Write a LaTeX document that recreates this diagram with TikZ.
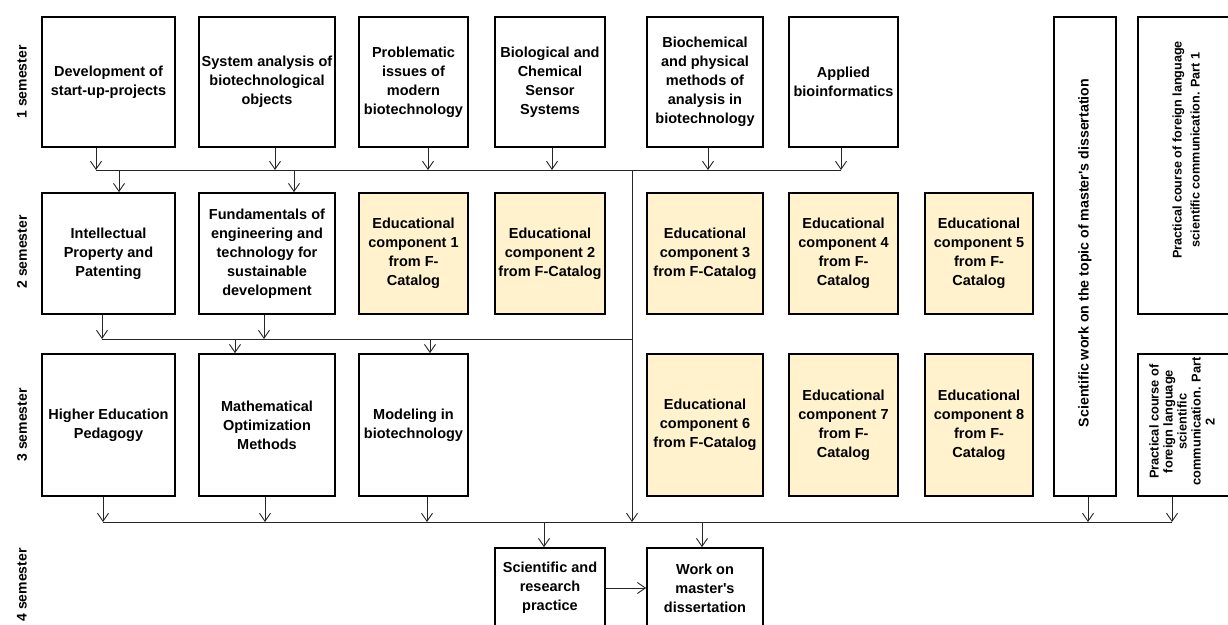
\documentclass[tikz,border=0pt]{standalone}
\usepackage{fontspec}
\setmainfont{Liberation Sans}[Ligatures=TeXOff]
\usetikzlibrary{arrows.meta}
\definecolor{ecfill}{HTML}{FFF2CC}
\begin{document}
\begin{tikzpicture}[x=1pt,y=-1pt,
  box/.style={draw=black, line width=1.7pt, fill=white, rectangle, inner sep=1pt, align=center,
              font=\bfseries\fontsize{14.5}{19}\selectfont},
  ec/.style={box, fill=ecfill},
  c1/.style={minimum width=133pt}, c2/.style={minimum width=136pt},
  c3/.style={minimum width=109pt}, c4/.style={minimum width=110pt},
  c5/.style={minimum width=116pt}, c6/.style={minimum width=109pt},
  c7/.style={minimum width=108pt},
  r1/.style={minimum height=130pt}, r2/.style={minimum height=121pt},
  r3/.style={minimum height=142pt}, r4/.style={minimum height=80pt},
  arr/.style={draw=black!85, line width=0.9pt, -{Straight Barb[length=8pt,width=11pt,line width=0.9pt]}},
  bus/.style={draw=black!85, line width=0.9pt},
  sem/.style={rotate=90, font=\bfseries\fontsize{14}{16}\selectfont},
  vtxt/.style={rotate=90, align=center, inner sep=0pt}
]
\useasboundingbox (0,0) rectangle (1228,624);
\begin{scope}
\clip (0,0) rectangle (1228,624);

% semester labels
\node[sem] (s1) at (22,82) {1 semester};
\node[sem] (s2) at (22,252) {2 semester};
\node[sem] (s3) at (22,425) {3 semester};
\node[sem] (s4) at (22,585) {4 semester};

% row 1
\node[box,c1,r1] (dev) at (108.5,82) {Development of\\start-up-projects};
\node[box,c2,r1] (sys) at (267,82) {System analysis of\\biotechnological\\objects};
\node[box,c3,r1] (prob) at (413.5,82) {Problematic\\issues of\\modern\\biotechnology};
\node[box,c4,r1] (bio) at (550,82) {Biological and\\Chemical\\Sensor\\Systems};
\node[box,c5,r1] (bch) at (705,82) {Biochemical\\and physical\\methods of\\analysis in\\biotechnology};
\node[box,c6,r1] (abi) at (843.5,82) {Applied\\bioinformatics};

% row 2
\node[box,c1,r2] (ip) at (108.5,253.5) {Intellectual\\Property and\\Patenting};
\node[box,c2,r2] (fund) at (267,253.5) {Fundamentals of\\engineering and\\technology for\\sustainable\\development};
\node[ec,c3,r2] (ec1) at (413.5,253.5) {Educational\\component 1\\from F-\\Catalog};
\node[ec,c4,r2] (ec2) at (550,253.5) {Educational\\component 2\\from F-Catalog};
\node[ec,c5,r2] (ec3) at (705,253.5) {Educational\\component 3\\from F-Catalog};
\node[ec,c6,r2] (ec4) at (843.5,253.5) {Educational\\component 4\\from F-\\Catalog};
\node[ec,c7,r2] (ec5) at (979,253.5) {Educational\\component 5\\from F-\\Catalog};

% row 3
\node[box,c1,r3] (hep) at (108.5,425) {Higher Education\\Pedagogy};
\node[box,c2,r3] (mom) at (267,425) {Mathematical\\Optimization\\Methods};
\node[box,c3,r3] (mib) at (413.5,425) {Modeling in\\biotechnology};
\node[ec,c5,r3] (ec6) at (705,425) {Educational\\component 6\\from F-Catalog};
\node[ec,c6,r3] (ec7) at (843.5,425) {Educational\\component 7\\from F-\\Catalog};
\node[ec,c7,r3] (ec8) at (979,425) {Educational\\component 8\\from F-\\Catalog};

% row 4
\node[box,c4,r4] (srp) at (550,588) {Scientific and\\research\\practice};
\node[box,c5,r4] (wmd) at (705,588) {Work on\\master's\\dissertation};

% right column
\node[box,minimum width=62pt,minimum height=479pt] (sw) at (1085,256.5) {};
\node[vtxt,font=\bfseries\fontsize{14.2}{18}\selectfont] (swt) at (1085,253) {Scientific work on the topic of master's dissertation};
\node[box,minimum width=98pt,minimum height=297pt] (pc1) at (1187,165.5) {};
\node[vtxt,font=\bfseries\fontsize{12.6}{18}\selectfont] (pc1t) at (1186,150) {Practical course of foreign language\\scientific communication. Part 1};
\node[box,minimum width=96pt,minimum height=142pt] (pc2) at (1186,425) {};
\node[vtxt,font=\bfseries\fontsize{12.8}{14}\selectfont] (pc2t) at (1182,421.5) {Practical course of\\foreign language\\scientific\\communication. Part\\2};

% bus coordinates
\coordinate (t1) at (96,170);  \coordinate (t2) at (275,170);
\coordinate (t3) at (428,170); \coordinate (t4) at (552,170);
\coordinate (t5) at (708,170); \coordinate (t6) at (841,170);
\coordinate (u1) at (119,170); \coordinate (u2) at (294,170);
\coordinate (v1) at (632,170);
\coordinate (w1) at (102,339); \coordinate (w2) at (264,339);
\coordinate (w3) at (235,339); \coordinate (w4) at (430,339);
\coordinate (w5) at (632,339);
\coordinate (y1) at (103,522); \coordinate (y2) at (265,522);
\coordinate (y3) at (427,522); \coordinate (y4) at (632,522);
\coordinate (y5) at (1088,522); \coordinate (y6) at (1172,522);
\coordinate (z1) at (544,522); \coordinate (z2) at (702,522);

% bus 1
\draw[bus] (t1) -- (t6);
\draw[arr] (dev.south -| t1) -- (t1);
\draw[arr] (sys.south -| t2) -- (t2);
\draw[arr] (prob.south -| t3) -- (t3);
\draw[arr] (bio.south -| t4) -- (t4);
\draw[arr] (bch.south -| t5) -- (t5);
\draw[arr] (abi.south -| t6) -- (t6);
\draw[arr] (u1) -- (ip.north -| u1);
\draw[arr] (u2) -- (fund.north -| u2);
\draw[arr] (v1) -- (y4);

% bus 2
\draw[bus] (w1) -- (w5);
\draw[arr] (ip.south -| w1) -- (w1);
\draw[arr] (fund.south -| w2) -- (w2);
\draw[arr] (w3) -- (mom.north -| w3);
\draw[arr] (w4) -- (mib.north -| w4);

% bus 3
\draw[bus] (y1) -- (y6);
\draw[arr] (hep.south -| y1) -- (y1);
\draw[arr] (mom.south -| y2) -- (y2);
\draw[arr] (mib.south -| y3) -- (y3);
\draw[arr] (sw.south -| y5) -- (y5);
\draw[arr] (pc2.south -| y6) -- (y6);
\draw[arr] (z1) -- (srp.north -| z1);
\draw[arr] (z2) -- (wmd.north -| z2);
\draw[arr] (srp) -- (wmd);
\end{scope}
\end{tikzpicture}
\end{document}
